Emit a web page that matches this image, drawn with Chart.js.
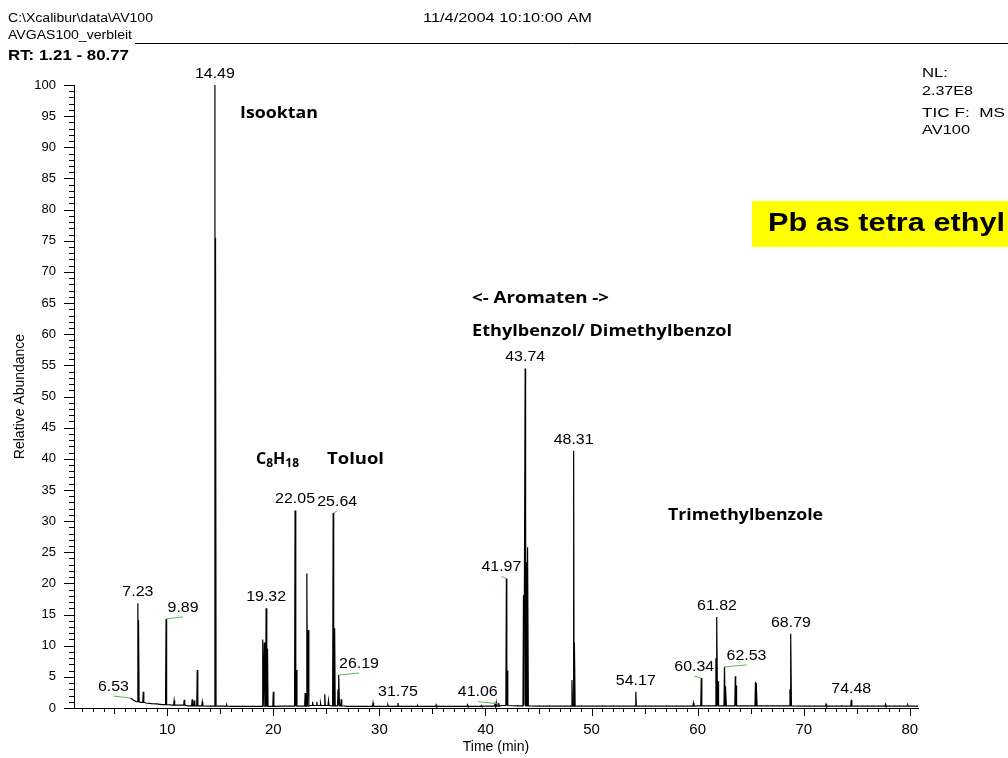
<!DOCTYPE html>
<html>
<head>
<meta charset="utf-8">
<script src="https://cdn.jsdelivr.net/npm/chart.js@4.4.1/dist/chart.umd.min.js"></script>
<style>
  html, body { margin: 0; padding: 0; background: #fff; }
  #wrap { width: 1008px; height: 758px; }
</style>
</head>
<body>
<div id="wrap"><canvas id="chart-tic" width="1008" height="758"></canvas></div>
<script>
// retention window (min)
const rtStart = 1.21;
const rtEnd = 80.77;

// axis tick labels
const xMajor = [10, 20, 30, 40, 50, 60, 70, 80];
const yMajor = [0, 5, 10, 15, 20, 25, 30, 35, 40, 45, 50, 55, 60, 65, 70, 75, 80, 85, 90, 95, 100];

// baseline of the trace (time / relative abundance)
const baseTimes  = [6.53, 6.8, 7.1, 7.5, 8.0, 8.5, 9.0, 9.5, 10.5, 12.0, 14.0, 16.0, 19.0, 21.0, 23.5, 25.5, 27.0, 30.0, 35.0, 40.0, 41.5, 43.0, 45.0, 50.0, 55.0, 60.0, 65.0, 70.0, 75.0, 80.77];
const baseLevels = [1.6, 1.3, 1.0, 0.9, 0.8, 0.7, 0.65, 0.55, 0.45, 0.35, 0.3, 0.25, 0.25, 0.3, 0.4, 0.35, 0.25, 0.25, 0.25, 0.3, 0.4, 0.35, 0.3, 0.3, 0.3, 0.35, 0.35, 0.3, 0.3, 0.3];

// peaks (retention time / relative abundance)
const peakTimes = [
    7.23, 7.3, 7.74, 9.89, 10.65, 11.6, 12.35, 12.55, 12.83, 13.3, 14.49, 14.55, 15.6,
    19.0, 19.15, 19.32, 19.45, 20.0, 22.05, 22.18, 23.0, 23.16, 23.3, 23.7, 24.1, 24.45, 24.85, 25.2,
    25.64, 25.78, 26.1, 26.19, 26.4, 29.4, 30.8, 31.75, 33.6, 35.35, 38.3, 39.6, 40.9, 41.06, 41.25,
    41.97, 42.05, 43.58, 43.74, 43.8, 43.88, 43.99, 48.15, 48.31, 48.4, 54.17, 59.6, 60.34,
    61.72, 61.82, 61.92, 62.53, 62.65, 63.55, 63.62, 65.45, 65.55, 68.7, 68.79,
    72.1, 73.6, 74.48, 77.7, 78.6, 79.8
];
const peakHeights = [
    16.8, 14.1, 2.6, 14.3, 1.2, 1.3, 1.4, 1.2, 6.1, 1.0, 100, 75.5, 0.5,
    11.0, 10.5, 16.0, 9.5, 2.6, 31.7, 6.1, 2.4, 21.6, 12.5, 1.0, 1.0, 0.8, 2.2, 1.2,
    31.3, 12.8, 3.0, 5.3, 1.4, 0.8, 0.5, 0.8, 0.4, 0.5, 0.5, 0.4, 0.7, 0.7, 0.8,
    20.8, 6.0, 18.1, 54.5, 30.6, 23.4, 25.8, 4.5, 41.3, 10.5, 2.6, 0.8, 4.8,
    8.0, 14.6, 4.3, 6.6, 3.5, 5.1, 3.6, 4.2, 4.0, 3.0, 11.9,
    0.6, 0.35, 1.3, 0.6, 0.3, 0.5
];

// retention times printed above the trace
const labelTimes = [6.53, 7.23, 9.89, 14.49, 19.32, 22.05, 25.64, 26.19, 31.75, 41.06, 41.97, 43.74, 48.31, 54.17, 60.34, 61.82, 62.53, 68.79, 74.48];

// labels moved sideways (px) and tied to their peak with a green leader
const labelShift = { '6.53': -17, '9.89': 17, '25.64': 4, '26.19': 20, '41.06': -19, '41.97': -5, '60.34': -7, '62.53': 22 };

const SANS = "'Liberation Sans', Arial, sans-serif";
Chart.defaults.font.family = SANS;
Chart.defaults.color = '#000';

function footLevel(t) {
    let lvl = baseLevels[0];
    for (let i = 0; i < baseTimes.length; i++) {
        if (baseTimes[i] <= t) lvl = baseLevels[i];
    }
    return lvl;
}

const HALF = 0.05;
const trace = baseTimes.map((t, i) => ({ x: t, y: baseLevels[i] }));
peakTimes.forEach((t, i) => {
    const b = footLevel(t);
    trace.push({ x: t - HALF, y: b }, { x: t, y: peakHeights[i] }, { x: t + HALF, y: b });
});
trace.sort((a, b) => a.x - b.x);

function text(ctx, str, x, y, font, align, sx) {
    ctx.save();
    ctx.font = font;
    ctx.textAlign = align || 'left';
    ctx.textBaseline = 'middle';
    ctx.translate(x, y);
    ctx.scale(sx || 1, 1);
    ctx.fillText(str, 0, 0);
    ctx.restore();
}

function fitText(ctx, str, left, y, font, width) {
    ctx.save();
    ctx.font = font;
    const w = ctx.measureText(str).width;
    ctx.restore();
    text(ctx, str, left, y, font, 'left', width / w);
}

const decor = {
    id: 'decor',
    beforeDraw(chart) {
        const ctx = chart.ctx;
        ctx.save();
        ctx.fillStyle = '#fff';
        ctx.fillRect(0, 0, chart.width, chart.height);
        ctx.restore();
    },
    afterDraw(chart) {
        const ctx = chart.ctx;
        const xs = chart.scales.x;
        const ys = chart.scales.y;
        const area = chart.chartArea;

        // tick marks
        ctx.save();
        ctx.strokeStyle = '#000';
        ctx.lineWidth = 1;
        ctx.beginPath();
        for (let v = Math.ceil(rtStart); v <= Math.floor(rtEnd); v++) {
            const px = Math.round(xs.getPixelForValue(v)) + 0.5;
            const len = v % 10 === 0 ? 8 : (v % 5 === 0 ? 6 : 4);
            ctx.moveTo(px, area.bottom);
            ctx.lineTo(px, area.bottom + len);
        }
        for (let v = 0; v <= 100; v++) {
            const py = Math.round(ys.getPixelForValue(v)) + 0.5;
            const len = v % 5 === 0 ? 10 : 5;
            ctx.moveTo(area.left, py);
            ctx.lineTo(area.left - len, py);
        }
        ctx.stroke();
        ctx.restore();

        // header
        ctx.save();
        ctx.fillStyle = '#000';
        fitText(ctx, 'C:\\Xcalibur\\data\\AV100', 8, 19, '12px ' + SANS, 145);
        fitText(ctx, 'AVGAS100_verbleit', 8, 36, '12px ' + SANS, 124);
        fitText(ctx, '11/4/2004 10:10:00 AM', 423, 19, '12px ' + SANS, 169);
        fitText(ctx, 'RT: 1.21 - 80.77', 8, 56, 'bold 14px ' + SANS, 121);
        ctx.strokeStyle = '#000';
        ctx.lineWidth = 1;
        ctx.beginPath();
        ctx.moveTo(135, 43.5);
        ctx.lineTo(1008, 43.5);
        ctx.stroke();

        fitText(ctx, 'NL:', 922, 73, '13px ' + SANS, 26);
        fitText(ctx, '2.37E8', 922, 91, '13px ' + SANS, 51);
        fitText(ctx, 'TIC F:  MS', 922, 113, '13px ' + SANS, 83);
        fitText(ctx, 'AV100', 922, 130, '13px ' + SANS, 48);

        // compound names
        const NOTE = "bold 16px 'Open Sans', sans-serif";
        const SUB = "bold 12px 'Open Sans', sans-serif";
        fitText(ctx, 'Isooktan', 240, 113, NOTE, 78);
        fitText(ctx, '<- Aromaten ->', 472, 298, NOTE, 137);
        fitText(ctx, 'Ethylbenzol/ Dimethylbenzol', 472, 331, NOTE, 260);
        fitText(ctx, 'Trimethylbenzole', 668, 515, NOTE, 155);
        fitText(ctx, 'Toluol', 327, 459, NOTE, 57);
        let cx = 256;
        [['C', NOTE, 0], ['8', SUB, 5], ['H', NOTE, 0], ['18', SUB, 5]].forEach(([s, f, dy]) => {
            text(ctx, s, cx, 459 + dy, f, 'left', 1);
            ctx.font = f;
            cx += ctx.measureText(s).width;
        });

        // yellow note
        ctx.fillStyle = '#ffff00';
        ctx.fillRect(752, 201, 256, 46);
        ctx.fillStyle = '#000';
        fitText(ctx, 'Pb as tetra ethyl', 768, 224, 'bold 25px ' + SANS, 237);

        // retention time labels
        labelTimes.forEach(t => {
            const idx = peakTimes.indexOf(t);
            const h = idx >= 0 ? peakHeights[idx] : footLevel(t);
            const px = xs.getPixelForValue(t);
            const py = ys.getPixelForValue(h);
            const key = t.toFixed(2);
            const dx = labelShift[key] || 0;
            const lx = px + dx;
            const ly = py - 11;
            if (dx) {
                ctx.strokeStyle = '#5cb85c';
                ctx.lineWidth = 1;
                ctx.beginPath();
                ctx.moveTo(px, py);
                ctx.lineTo(lx, ly + 9);
                ctx.stroke();
            }
            ctx.fillStyle = '#000';
            text(ctx, key, lx, ly, '14px ' + SANS, 'center', 1.14);
        });
        ctx.restore();
    }
};

const chartTic = new Chart(document.getElementById('chart-tic'), {
    type: 'line',
    data: {
        datasets: [{
            label: 'TIC',
            data: trace,
            borderColor: '#000',
            borderWidth: 1.2,
            pointRadius: 0,
            tension: 0,
            fill: false
        }]
    },
    options: {
        responsive: false,
        animation: false,
        events: [],
        layout: {
            padding: { top: 85, right: 90, left: 0, bottom: 0 }
        },
        scales: {
            x: {
                type: 'linear',
                min: rtStart,
                max: rtEnd,
                afterFit: scale => { scale.height = 50; },
                afterBuildTicks: scale => { scale.ticks = xMajor.map(v => ({ value: v })); },
                grid: { display: false, drawTicks: false },
                border: { display: true, color: '#000', width: 1 },
                ticks: {
                    autoSkip: false,
                    maxRotation: 0,
                    padding: 13,
                    color: '#000',
                    font: { size: 15 }
                },
                title: {
                    display: true,
                    text: 'Time (min)',
                    color: '#000',
                    font: { size: 14 },
                    padding: { top: 0, bottom: 2 }
                }
            },
            y: {
                min: 0,
                max: 100,
                afterFit: scale => { scale.width = 74; },
                afterBuildTicks: scale => { scale.ticks = yMajor.map(v => ({ value: v })); },
                grid: { display: false, drawTicks: false },
                border: { display: true, color: '#000', width: 1 },
                ticks: {
                    autoSkip: false,
                    padding: 18,
                    color: '#000',
                    font: { size: 13 }
                },
                title: {
                    display: true,
                    text: 'Relative Abundance',
                    color: '#000',
                    font: { size: 14 },
                    padding: { top: 12, bottom: 0 }
                }
            }
        },
        plugins: {
            legend: { display: false },
            tooltip: { enabled: false }
        }
    },
    plugins: [decor]
});
</script>
</body>
</html>
